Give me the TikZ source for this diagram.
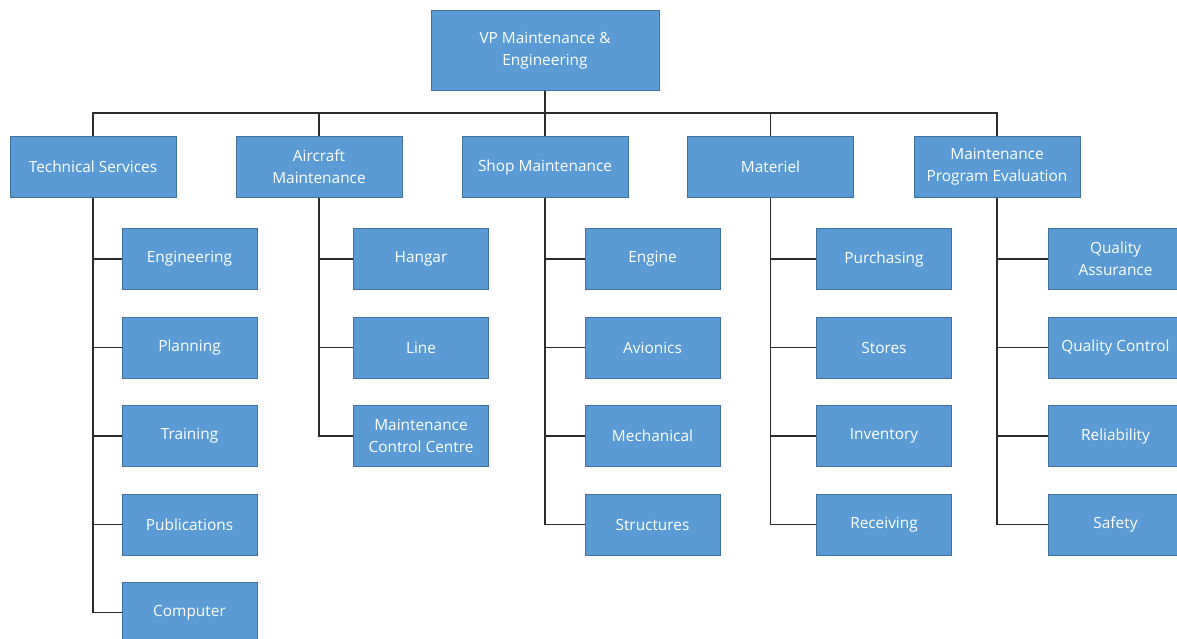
\documentclass[tikz,border=0pt]{standalone}
\usepackage{fontspec}
\setmainfont{Open Sans}
\definecolor{boxfill}{HTML}{5B9BD5}
\definecolor{boxline}{HTML}{41719C}
\definecolor{wire}{HTML}{2B2B2B}
\begin{document}
\begin{tikzpicture}[x=1pt,y=-1pt,
  unit/.style={draw=boxline,fill=boxfill,line width=1pt,text=white,inner sep=2pt,
    align=center,font=\fontsize{15.4}{22}\selectfont},
  top/.style={unit,minimum width=228pt,minimum height=80pt},
  dept/.style={unit,minimum width=166pt,minimum height=61pt},
  sub/.style={unit,minimum width=135pt,minimum height=61pt},
  link/.style={draw=wire,line width=1.4pt}]
\useasboundingbox (0,0) rectangle (1177,639);
\clip (0,0) rectangle (1177,639);
% top of the chart
\node[top] (vp) at (545,51) {VP Maintenance \&\\Engineering};
\coordinate (bus) at (0,113);
% departments
\node[dept] (ts)  at (93,167)  {Technical Services};
\node[dept] (am)  at (319,167) {Aircraft\\Maintenance};
\node[dept] (sm)  at (545,167) {Shop Maintenance};
\node[dept] (mat) at (770.5,167) {Materiel};
\node[dept] (mpe) at (997,167) {Maintenance\\Program Evaluation};
% Technical Services
\node[sub] (ts1) at (189.5,259) {Engineering};
\node[sub] (ts2) at (189.5,347.5) {Planning};
\node[sub] (ts3) at (189.5,436)   {Training};
\node[sub] (ts4) at (189.5,524.5) {Publications};
\node[sub] (ts5) at (189.5,612.5) {Computer};
% Aircraft Maintenance
\node[sub] (am1) at (421,259)   {Hangar};
\node[sub] (am2) at (421,347.5) {Line};
\node[sub] (am3) at (421,436)   {Maintenance\\Control Centre};
% Shop Maintenance
\node[sub] (sm1) at (652.5,259)   {Engine};
\node[sub] (sm2) at (652.5,347.5) {Avionics};
\node[sub] (sm3) at (652.5,436)   {Mechanical};
\node[sub] (sm4) at (652.5,524.5) {Structures};
% Materiel
\node[sub] (mt1) at (884,259)   {Purchasing};
\node[sub] (mt2) at (884,347.5) {Stores};
\node[sub] (mt3) at (884,436)   {Inventory};
\node[sub] (mt4) at (884,524.5) {Receiving};
% Maintenance Program Evaluation
\node[sub] (mp1) at (1115.5,259)   {Quality\\Assurance};
\node[sub] (mp2) at (1115.5,347.5) {Quality Control};
\node[sub] (mp3) at (1115.5,436)   {Reliability};
\node[sub] (mp4) at (1115.5,524.5) {Safety};
% connectors
\draw[link] (vp.south) -- (vp.south |- bus);
\draw[link] (ts.north) -- (ts.north |- bus) -- (mpe.north |- bus) -- (mpe.north);
\foreach \d in {am,sm,mat} \draw[link] (\d.north) -- (\d.north |- bus);
\foreach \c in {ts1,ts2,ts3,ts4,ts5} \draw[link] (ts.south) |- (\c.west);
\foreach \c in {am1,am2,am3} \draw[link] (am.south) |- (\c.west);
\foreach \c in {sm1,sm2,sm3,sm4} \draw[link] (sm.south) |- (\c.west);
\foreach \c in {mt1,mt2,mt3,mt4} \draw[link] (mat.south) |- (\c.west);
\foreach \c in {mp1,mp2,mp3,mp4} \draw[link] (mpe.south) |- (\c.west);
\end{tikzpicture}
\end{document}
